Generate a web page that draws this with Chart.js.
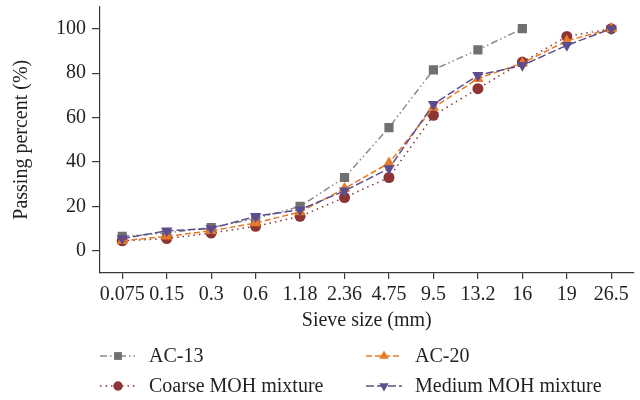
<!DOCTYPE html>
<html>
<head>
<meta charset="utf-8">
<script src="https://cdn.jsdelivr.net/npm/chart.js@4"></script>
<style>
  html, body { margin: 0; background: #fff; }
  #wrap { width: 640px; height: 400px; }
</style>
</head>
<body>
<div id="wrap"><canvas id="gradation"></canvas></div>
<script>
// sieve sizes (mm) and passing percent of each mixture
const sieveSizes = ["0.075", "0.15", "0.3", "0.6", "1.18", "2.36", "4.75", "9.5", "13.2", "16", "19", "26.5"];
const ac13 = [6.5, 8, 10.5, 14.5, 20, 33, 55.5, 81.5, 90.5, 100, null, null];
const ac20 = [4.5, 6.5, 9, 12.5, 17.5, 28, 39.5, 64.5, 77.5, 84.5, 94.5, 100];
const coarseMoh = [4.5, 5.5, 8, 11, 15.5, 24, 33, 61, 73, 85, 96.5, 100];
const mediumMoh = [5.5, 9, 10, 15.5, 18.5, 27, 37, 66, 79, 83.5, 92.5, 100];
const yTicks = [0, 20, 40, 60, 80, 100];

const serif = "'Liberation Serif', 'DejaVu Serif', serif";
const textColor = "#231f20";
const axisColor = "#3a3a3a";

// two-column legend under the plot, like the original figure
const gridLegend = {
  id: "gridLegend",
  afterDraw(chart) {
    const ctx = chart.ctx;
    const cols = [100, 366];
    const rows = [356, 386];
    chart.data.datasets.forEach((ds, i) => {
      const x = cols[i % 2];
      const y = rows[Math.floor(i / 2)];
      ctx.save();
      ctx.strokeStyle = ds.borderColor;
      ctx.lineWidth = ds.borderWidth;
      ctx.setLineDash(ds.borderDash || []);
      ctx.beginPath();
      ctx.moveTo(x, y);
      ctx.lineTo(x + 36, y);
      ctx.stroke();
      ctx.setLineDash([]);
      ctx.fillStyle = ds.pointBackgroundColor;
      ctx.strokeStyle = ds.pointBackgroundColor;
      Chart.helpers.drawPoint(ctx, {
        pointStyle: ds.pointStyle,
        radius: ds.pointRadius * 0.85,
        rotation: ds.pointRotation || 0,
        borderWidth: 0
      }, x + 18, y);
      ctx.fillStyle = textColor;
      ctx.font = "20px " + serif;
      ctx.textBaseline = "middle";
      ctx.fillText(ds.label, x + 49, y + 1);
      ctx.restore();
    });
  }
};

new Chart(document.getElementById("gradation"), {
  type: "line",
  data: {
    labels: sieveSizes,
    datasets: [
      {
        label: "AC-13",
        data: ac13,
        borderColor: "#8a8a8a",
        borderWidth: 1.5,
        borderDash: [7, 3, 1.5, 3, 1.5, 3],
        pointStyle: "rect",
        pointRadius: 6.5,
        pointBackgroundColor: "#707070",
        pointBorderWidth: 0,
        order: 3
      },
      {
        label: "AC-20",
        data: ac20,
        borderColor: "#e87a25",
        borderWidth: 1.5,
        borderDash: [6, 3],
        pointStyle: "triangle",
        pointRadius: 6.5,
        pointBackgroundColor: "#e87a25",
        pointBorderWidth: 0,
        order: 1
      },
      {
        label: "Coarse MOH mixture",
        data: coarseMoh,
        borderColor: "#8e3434",
        borderWidth: 1.5,
        borderDash: [1.5, 4],
        pointStyle: "circle",
        pointRadius: 5.5,
        pointBackgroundColor: "#8e3434",
        pointBorderWidth: 0,
        order: 2
      },
      {
        label: "Medium MOH mixture",
        data: mediumMoh,
        borderColor: "#5e4d8c",
        borderWidth: 1.5,
        borderDash: [8, 3],
        pointStyle: "triangle",
        pointRotation: 180,
        pointRadius: 6.5,
        pointBackgroundColor: "#5e4d8c",
        pointBorderWidth: 0,
        order: 0
      }
    ]
  },
  options: {
    responsive: true,
    maintainAspectRatio: false,
    animation: false,
    layout: { padding: { left: 0, right: 5, top: 6, bottom: 65 } },
    plugins: {
      legend: { display: false },
      tooltip: { enabled: false }
    },
    elements: { line: { tension: 0, fill: false } },
    scales: {
      x: {
        offset: true,
        border: { display: true, color: axisColor, width: 1.2 },
        grid: { offset: false, drawOnChartArea: false, drawTicks: true, tickLength: 6, color: axisColor, lineWidth: 1.2 },
        ticks: { autoSkip: false, maxRotation: 0, padding: 4, color: textColor, font: { family: serif, size: 20 } },
        title: { display: true, text: "Sieve size (mm)", color: textColor, font: { family: serif, size: 20 }, padding: { top: 0, bottom: 2 } },
        afterFit: s => { s.height = 62; s.paddingLeft = 0; s.paddingRight = 0; }
      },
      y: {
        min: -10,
        max: 110,
        afterBuildTicks: s => { s.ticks = yTicks.map(v => ({ value: v })); },
        border: { display: true, color: axisColor, width: 1.2 },
        grid: { drawOnChartArea: false, drawTicks: true, tickLength: 8, color: axisColor, lineWidth: 1.2 },
        ticks: { padding: 6, color: textColor, font: { family: serif, size: 20 } },
        title: { display: true, text: "Passing percent (%)", color: textColor, font: { family: serif, size: 20 }, padding: { top: 10, bottom: 4 } },
        afterFit: s => { s.width = 100; s.paddingTop = 0; s.paddingBottom = 0; }
      }
    }
  },
  plugins: [gridLegend]
});
</script>
</body>
</html>
